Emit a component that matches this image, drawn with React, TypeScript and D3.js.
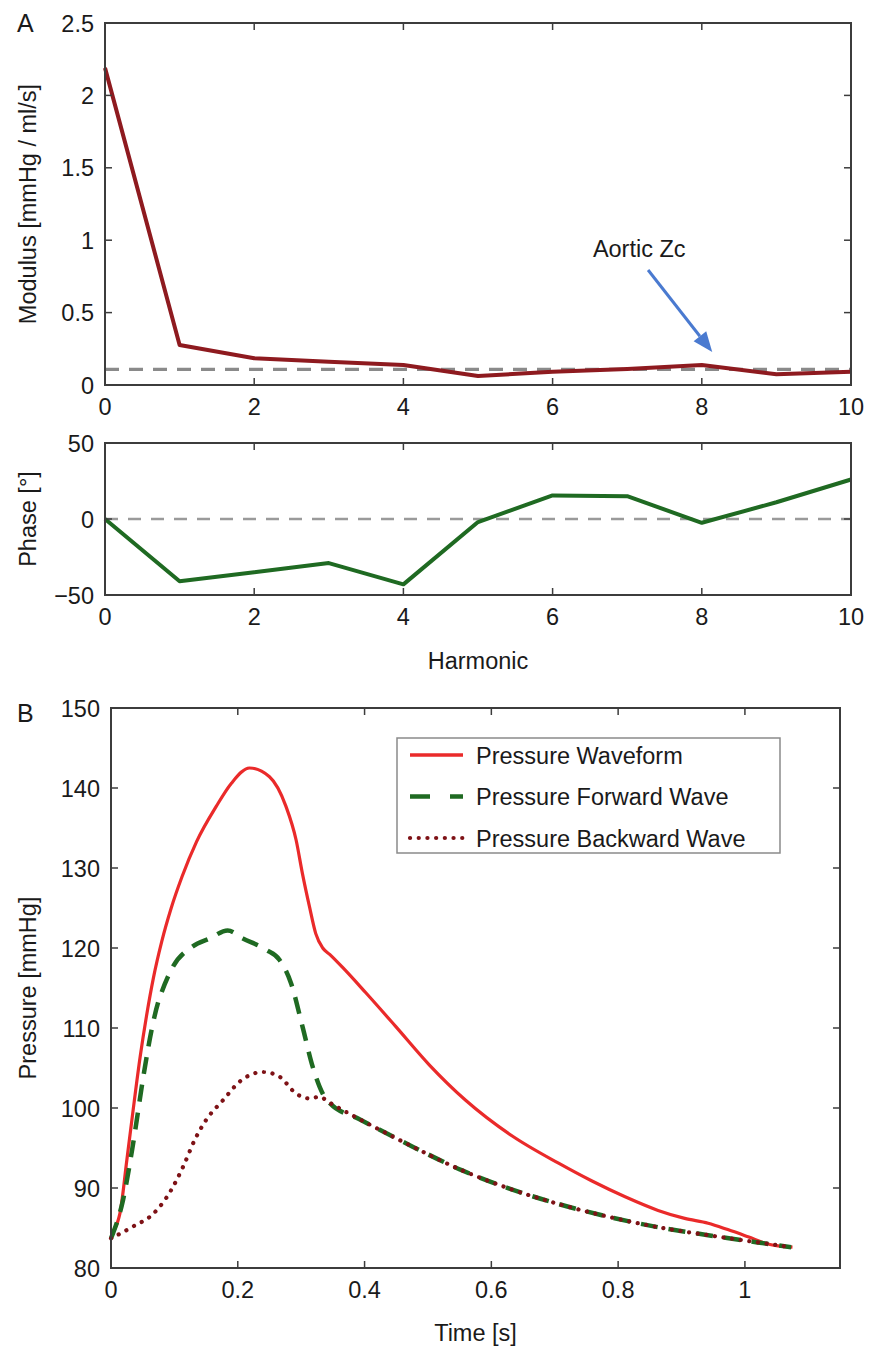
import React from 'react';
import * as d3 from 'd3';

// ---------- Data ----------
const harmonics = [0, 1, 2, 3, 4, 5, 6, 7, 8, 9, 10];
const modulus = [2.19, 0.276, 0.185, 0.16, 0.138, 0.062, 0.092, 0.11, 0.138, 0.074, 0.092];
const phase = [0, -41, -35, -29, -43, -2, 15.5, 15, -2.5, 11, 26];
const aorticZc = 0.108;
const modulusTicks = [0, 0.5, 1, 1.5, 2, 2.5];
const phaseTicks = [-50, 0, 50];
const harmonicTicks = [0, 2, 4, 6, 8, 10];

const waveformT = [0, 0.014, 0.025, 0.035, 0.046, 0.056, 0.067, 0.08, 0.095, 0.112, 0.135, 0.166, 0.19, 0.2185, 0.25, 0.276, 0.292, 0.302, 0.313, 0.323, 0.334, 0.345, 0.365, 0.402, 0.449, 0.502, 0.559, 0.633, 0.706, 0.758, 0.811, 0.863, 0.905, 0.942, 0.973, 1.005, 1.036, 1.075];
const waveformP = [84.3, 86.8, 93.5, 99.8, 106.4, 111.5, 116.3, 120.8, 125.0, 128.9, 133.3, 137.7, 140.6, 142.5, 141.4, 137.7, 133.5, 129.3, 125.2, 121.8, 120, 119.2, 117.6, 114.4, 110.2, 105.4, 101, 96.5, 93.1, 90.9, 88.9, 87.2, 86.2, 85.6, 84.8, 83.9, 83.0, 82.6];

const forwardT = [0, 0.019, 0.035, 0.051, 0.064, 0.074, 0.08, 0.098, 0.129, 0.156, 0.184, 0.208, 0.245, 0.266, 0.284, 0.302, 0.318, 0.334, 0.344, 0.392, 0.433, 0.475, 0.554, 0.633, 0.706, 0.785, 0.863, 0.942, 1.02, 1.073];
const forwardP = [83.7, 88.5, 95.6, 103.9, 109.75, 113.1, 114.5, 117.7, 120.2, 121.2, 122.2, 121.2, 119.75, 118.5, 115.6, 110.2, 105.2, 101.8, 100.7, 98.6, 96.9, 95.2, 92.2, 89.8, 88.0, 86.4, 85.1, 84.1, 83.2, 82.6];

const backwardT = [0, 0.035, 0.067, 0.095, 0.114, 0.132, 0.15, 0.177, 0.203, 0.24, 0.266, 0.292, 0.313, 0.329, 0.344, 0.392, 0.433, 0.475, 0.554, 0.633, 0.706, 0.785, 0.863, 0.942, 1.02, 1.073];
const backwardP = [83.7, 85.2, 86.8, 89.75, 92.7, 96, 98.5, 101, 103.3, 104.5, 103.9, 101.8, 101.2, 101.4, 100.7, 98.6, 96.9, 95.2, 92.2, 89.8, 88.0, 86.4, 85.1, 84.1, 83.2, 82.6];

const timeTicks = [0, 0.2, 0.4, 0.6, 0.8, 1];
const pressureTicks = [80, 90, 100, 110, 120, 130, 140, 150];
const legendLabels = ['Pressure Waveform', 'Pressure Forward Wave', 'Pressure Backward Wave'];

// ---------- Style ----------
const FONT = "'Liberation Sans', Arial, Helvetica, sans-serif";
const FS = 23.5;
const AXIS = '#3c3c3c';
const TXT = '#1a1a1a';
const C_MOD = '#8e1a1f';
const C_PH = '#1f6a22';
const C_RED = '#ea2a2a';
const C_GREEN = '#1f6a22';
const C_DOT = '#7e1216';
const C_ARROW = '#4a7ad0';

const fmt = (v: number) => (v < 0 ? '\u2212' + String(-v) : String(v));

function Frame({ x, y, xTicks, yTicks, showXLabels = true }: any) {
  const [x0, x1] = x.range();
  const [y0, y1] = y.range(); // y0 bottom, y1 top
  const TL = 7;
  return (
    <g>
      {xTicks.map((t: number) => (
        <g key={'x' + t}>
          <line x1={x(t)} x2={x(t)} y1={y0} y2={y0 - TL} stroke={AXIS} strokeWidth={1.5} />
          <line x1={x(t)} x2={x(t)} y1={y1} y2={y1 + TL} stroke={AXIS} strokeWidth={1.5} />
          {showXLabels && (
            <text x={x(t)} y={y0 + 30} textAnchor="middle" fontSize={FS} fill={TXT} fontFamily={FONT}>
              {fmt(t)}
            </text>
          )}
        </g>
      ))}
      {yTicks.map((t: number) => (
        <g key={'y' + t}>
          <line x1={x0} x2={x0 + TL} y1={y(t)} y2={y(t)} stroke={AXIS} strokeWidth={1.5} />
          <line x1={x1} x2={x1 - TL} y1={y(t)} y2={y(t)} stroke={AXIS} strokeWidth={1.5} />
          <text x={x0 - 11} y={y(t) + 8.5} textAnchor="end" fontSize={FS} fill={TXT} fontFamily={FONT}>
            {fmt(t)}
          </text>
        </g>
      ))}
      <rect x={x0} y={y1} width={x1 - x0} height={y0 - y1} fill="none" stroke={AXIS} strokeWidth={2} />
    </g>
  );
}

export default function App() {
  // Panel A (modulus)
  const xA = d3.scaleLinear().domain([0, 10]).range([105, 851]);
  const yMod = d3.scaleLinear().domain([0, 2.5]).range([385, 23]);
  // Panel A (phase)
  const yPh = d3.scaleLinear().domain([-50, 50]).range([595, 443]);
  // Panel B
  const xT = d3.scaleLinear().domain([0, 1.15]).range([111, 840]);
  const yP = d3.scaleLinear().domain([80, 150]).range([1268, 708]);

  const modLine = d3.line<number>().x((_, i) => xA(harmonics[i])).y((d) => yMod(d));
  const phLine = d3.line<number>().x((_, i) => xA(harmonics[i])).y((d) => yPh(d));

  const mk = (T: number[]) =>
    d3
      .line<number>()
      .x((_, i) => xT(T[i]))
      .y((d) => yP(d))
      .curve(d3.curveMonotoneX);

  // annotation (in data units)
  const arrowStart: [number, number] = [xA(7.28), yMod(0.794)];
  const arrowTip: [number, number] = [xA(8.14), yMod(0.228)];
  const ang = Math.atan2(arrowTip[1] - arrowStart[1], arrowTip[0] - arrowStart[0]);
  const HL = 20, HW = 8;
  const base: [number, number] = [arrowTip[0] - HL * Math.cos(ang), arrowTip[1] - HL * Math.sin(ang)];
  const head = [
    arrowTip,
    [base[0] + HW * Math.sin(ang), base[1] - HW * Math.cos(ang)],
    [base[0] - HW * Math.sin(ang), base[1] + HW * Math.cos(ang)],
  ]
    .map((p) => p.join(','))
    .join(' ');

  // legend geometry
  const lgX = 397, lgY = 738, lgW = 383, lgH = 115, rowH = 41.5;

  return (
    <svg
      width={870}
      height={1349}
      style={{ position: 'absolute', left: 0, top: 0, background: '#fff' }}
      fontFamily={FONT}
    >
      <rect x={0} y={0} width={870} height={1349} fill="#fff" />

      {/* ===== Panel A: Modulus ===== */}
      <text x={17} y={32} fontSize={25} fill={TXT}>A</text>
      <line
        x1={xA(0)} x2={xA(10)} y1={yMod(aorticZc)} y2={yMod(aorticZc)}
        stroke="#8a8a8a" strokeWidth={3.2} strokeDasharray="14,10"
      />
      <path d={modLine(modulus) || ''} fill="none" stroke={C_MOD} strokeWidth={4} strokeLinejoin="round" />
      <Frame x={xA} y={yMod} xTicks={harmonicTicks} yTicks={modulusTicks} />
      <text
        transform={`translate(${36},${(yMod(0) + yMod(2.5)) / 2}) rotate(-90)`}
        textAnchor="middle" fontSize={FS} fill={TXT}
      >
        Modulus [mmHg / ml/s]
      </text>
      <line
        x1={arrowStart[0]} y1={arrowStart[1]} x2={base[0]} y2={base[1]}
        stroke={C_ARROW} strokeWidth={3}
      />
      <polygon points={head} fill={C_ARROW} />
      <text x={xA(6.54)} y={yMod(0.884)} fontSize={FS} fill={TXT}>Aortic Zc</text>

      {/* ===== Panel A: Phase ===== */}
      <line
        x1={xA(0)} x2={xA(10)} y1={yPh(0)} y2={yPh(0)}
        stroke="#9a9a9a" strokeWidth={2.6} strokeDasharray="13,10"
      />
      <path d={phLine(phase) || ''} fill="none" stroke={C_PH} strokeWidth={4} strokeLinejoin="round" />
      <Frame x={xA} y={yPh} xTicks={harmonicTicks} yTicks={phaseTicks} />
      <text
        transform={`translate(${36},${yPh(0)}) rotate(-90)`}
        textAnchor="middle" fontSize={FS} fill={TXT}
      >
        Phase [°]
      </text>
      <text x={(xA(0) + xA(10)) / 2} y={669} textAnchor="middle" fontSize={FS} fill={TXT}>
        Harmonic
      </text>

      {/* ===== Panel B ===== */}
      <text x={17} y={722} fontSize={25} fill={TXT}>B</text>
      <path d={mk(waveformT)(waveformP) || ''} fill="none" stroke={C_RED} strokeWidth={3.2} />
      <path
        d={mk(forwardT)(forwardP) || ''} fill="none" stroke={C_GREEN} strokeWidth={4.5}
        strokeDasharray="17,11"
      />
      <path
        d={mk(backwardT)(backwardP) || ''} fill="none" stroke={C_DOT} strokeWidth={4.2}
        strokeDasharray="0.1,8.6" strokeLinecap="round"
      />
      <Frame x={xT} y={yP} xTicks={timeTicks} yTicks={pressureTicks} />
      <text
        transform={`translate(${36},${(yP(80) + yP(150)) / 2}) rotate(-90)`}
        textAnchor="middle" fontSize={FS} fill={TXT}
      >
        Pressure [mmHg]
      </text>
      <text x={(xT(0) + xT(1.15)) / 2} y={1341} textAnchor="middle" fontSize={FS} fill={TXT}>
        Time [s]
      </text>

      {/* Legend */}
      <rect x={lgX} y={lgY} width={lgW} height={lgH} fill="#fff" stroke="#8a8a8a" strokeWidth={1.5} />
      {legendLabels.map((lab, i) => {
        const cy = lgY + 17 + i * rowH;
        const styles = [
          { stroke: C_RED, strokeWidth: 3.5, dash: undefined, cap: 'butt' },
          { stroke: C_GREEN, strokeWidth: 4.5, dash: '20,20', cap: 'butt' },
          { stroke: C_DOT, strokeWidth: 4.2, dash: '0.1,8.6', cap: 'round' },
        ][i];
        return (
          <g key={lab}>
            <line
              x1={lgX + 13} x2={lgX + 66} y1={cy} y2={cy}
              stroke={styles.stroke} strokeWidth={styles.strokeWidth}
              strokeDasharray={styles.dash} strokeLinecap={styles.cap as any}
            />
            <text x={lgX + 79} y={cy + 8.5} fontSize={FS} fill={TXT}>{lab}</text>
          </g>
        );
      })}
    </svg>
  );
}
